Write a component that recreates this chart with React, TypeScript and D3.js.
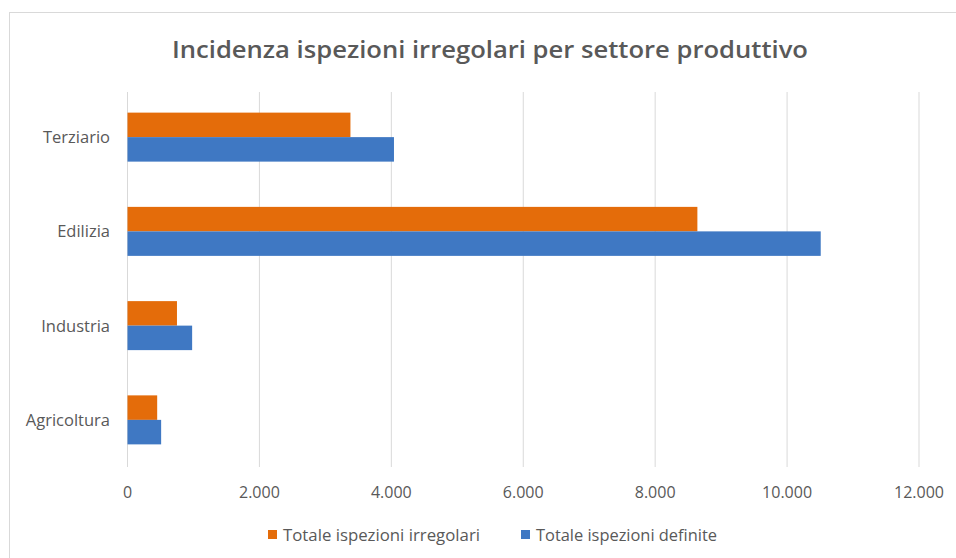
import React from "react";
import * as d3 from "d3";

const categories = ["Terziario", "Edilizia", "Industria", "Agricoltura"];
const irregolari = [3380, 8640, 750, 450];
const definite = [4040, 10510, 980, 510];
const xTicks = [0, 2000, 4000, 6000, 8000, 10000, 12000];
const seriesNames = ["Totale ispezioni irregolari", "Totale ispezioni definite"];
const title = "Incidenza ispezioni irregolari per settore produttivo";

const W = 956, H = 558;
const FONT = "'Open Sans', Calibri, sans-serif";
const ORANGE = "#E46C0A";
const BLUE = "#3F78C3";
const GRAY = "#595959";

export default function App() {
  const x = d3.scaleLinear().domain([0, 12000]).range([127.5, 919]);
  const y = d3.scaleBand().domain(categories).range([90, 467]).paddingInner(0).paddingOuter(0);
  const barH = 24.5;
  const fmt = d3.format(",d");
  const tickFmt = (v: number) => fmt(v).replace(/,/g, ".");
  const series = [irregolari, definite];
  const colors = [ORANGE, BLUE];

  return (
    <svg width={W} height={H} style={{ position: "absolute", left: 0, top: 0, background: "#fff" }}>
      <rect x={0} y={0} width={W} height={H} fill="#fff" />
      <line x1={9} x2={W} y1={12.5} y2={12.5} stroke="#d9d9d9" />
      <line x1={9.5} x2={9.5} y1={12} y2={H} stroke="#d9d9d9" />
      <text x={490} y={58} textAnchor="middle" fontFamily={FONT} fontSize={24} fontWeight={600} fill={GRAY}
        textLength={636} lengthAdjust="spacingAndGlyphs">{title}</text>
      {xTicks.map((t) => (
        <g key={t}>
          <line x1={x(t)} x2={x(t)} y1={92} y2={467} stroke="#d9d9d9" strokeWidth={1} />
          <text x={x(t)} y={498} textAnchor="middle" fontFamily={FONT} fontSize={16} fill={GRAY}>{tickFmt(t)}</text>
        </g>
      ))}
      {categories.map((c, i) => {
        const cy = (y(c) as number) + y.bandwidth() / 2;
        return (
          <g key={c}>
            <text x={110} y={cy + 6} textAnchor="end" fontFamily={FONT} fontSize={16.5} fill={GRAY}>{c}</text>
            {series.map((s, k) => (
              <rect key={k} x={x(0)} y={cy - barH + k * barH} width={x(s[i]) - x(0)} height={barH} fill={colors[k]} />
            ))}
          </g>
        );
      })}
      {seriesNames.map((n, k) => {
        const lx = [268, 521][k];
        const tl = [197, 181][k];
        return (
          <g key={n}>
            <rect x={lx} y={530} width={9} height={9} fill={colors[k]} />
            <text x={lx + 15} y={541} fontFamily={FONT} fontSize={16} fill={GRAY}
              textLength={tl} lengthAdjust="spacingAndGlyphs">{n}</text>
          </g>
        );
      })}
    </svg>
  );
}
